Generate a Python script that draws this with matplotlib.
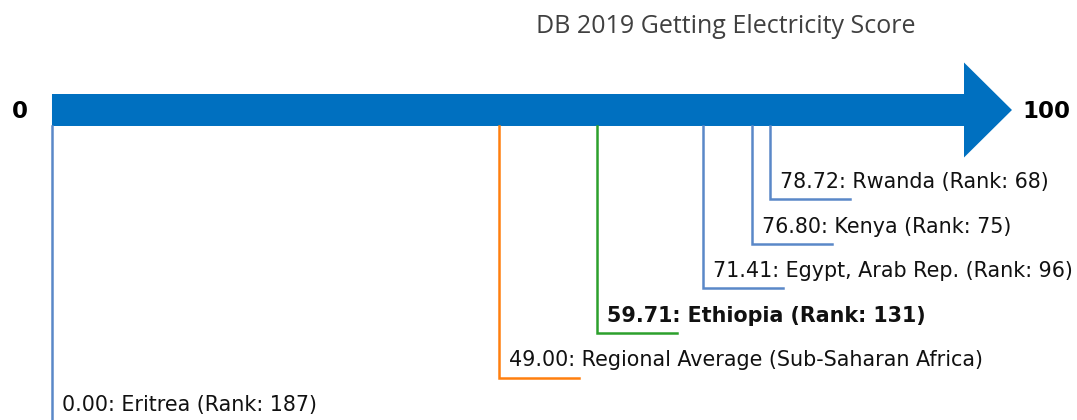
import matplotlib
matplotlib.use("Agg")
from matplotlib import pyplot as plt
from matplotlib.patches import FancyArrow

# scores on the 0-100 scale, top row first
names = ["Rwanda", "Kenya", "Egypt, Arab Rep.", "Ethiopia",
         "Regional Average (Sub-Saharan Africa)", "Eritrea"]
scores = [78.72, 76.80, 71.41, 59.71, 49.00, 0.00]
ranks = [68, 75, 96, 131, None, 187]
colors = ["#5a88c8", "#5a88c8", "#5a88c8", "#2ca02c", "#ff7f0e", "#5a88c8"]
bold = [False, False, False, True, False, False]

fig = plt.figure(figsize=(10.77, 4.2), dpi=100)
ax = fig.add_axes([0, 0, 1, 1])
ax.set_xlim(-5.70, 112.39)
ax.set_ylim(6.95, -2.466)
ax.axis("off")

# main arrow from 0 to 100
shaft = 0.717
ax.add_patch(FancyArrow(0, 0, 100 + 5.26, 0, width=shaft, head_width=2.13,
                        head_length=5.26, length_includes_head=True,
                        color="#0070c0", lw=0))
ax.text(-3.5, 0.03, "0", ha="center", va="center", fontsize=16.5, fontweight="bold")
ax.text(106.4, 0.03, "100", ha="left", va="center", fontsize=16.5, fontweight="bold")

seg = 8.77
for i, (n, s, r, c, b) in enumerate(zip(names, scores, ranks, colors, bold)):
    row = i + 2
    ax.plot([s, s, s + seg], [shaft / 2, row, row], color=c, lw=1.8,
            solid_joinstyle="miter", clip_on=False)
    label = f"{s:.2f}: {n}" + (f" (Rank: {r})" if r is not None else "")
    ax.text(s + 1.1, row - 0.25, label, ha="left", va="baseline", fontsize=14.9,
            fontweight="bold" if b else "normal", color="#111111")

fig.text(0.674, 0.938, "DB 2019 Getting Electricity Score", ha="center", va="center",
         fontsize=18, family="Open Sans", color="#404040")

fig.savefig("out.png", dpi=100)
